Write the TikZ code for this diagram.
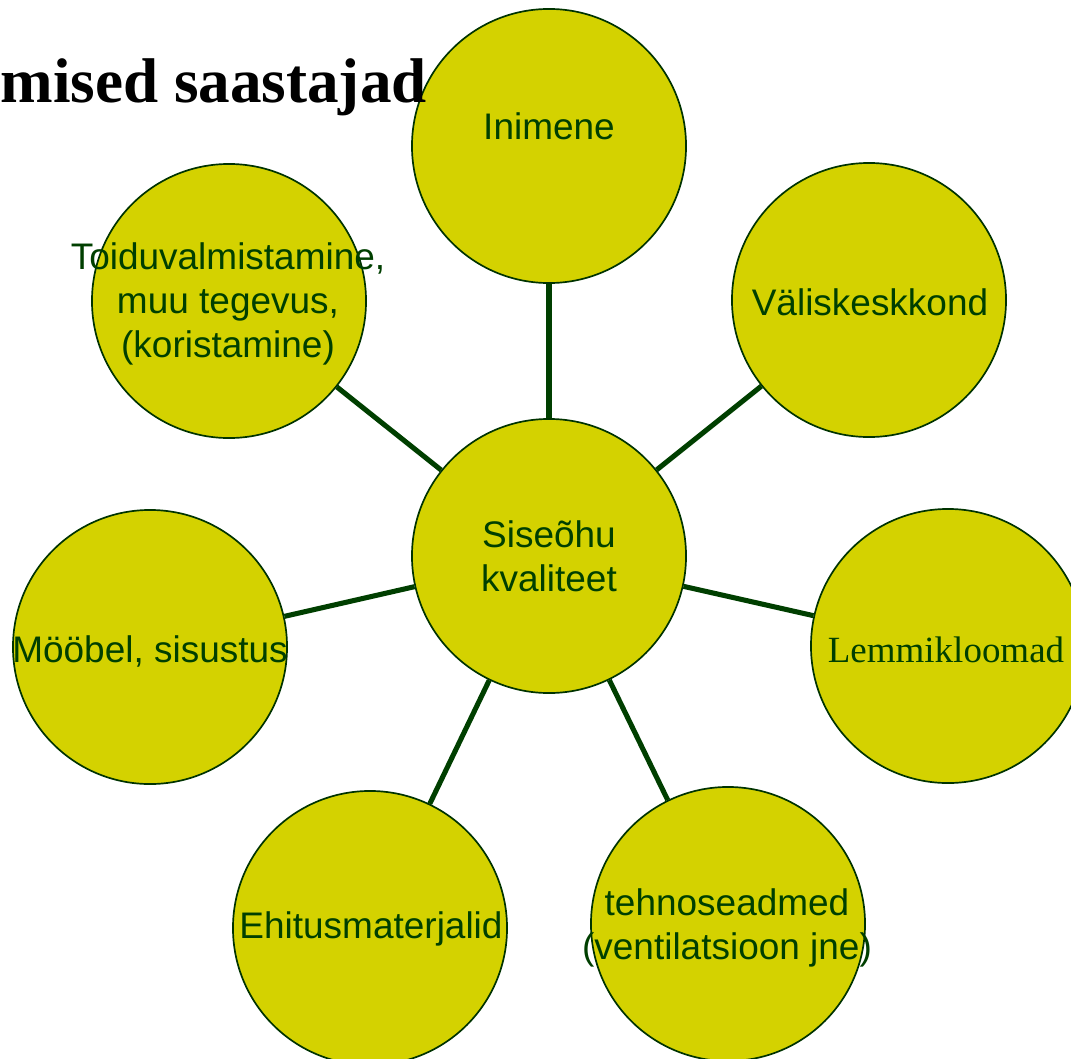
\documentclass[tikz,border=0pt]{standalone}
\usepackage{fontspec}
\setmainfont{Liberation Serif}
\setsansfont{Liberation Sans}
\usepackage{xcolor}
\usetikzlibrary{positioning}

\definecolor{blobfill}{HTML}{D4D200}
\definecolor{blobline}{HTML}{003300}
\definecolor{blobtext}{HTML}{003F00}

\begin{document}
\begin{tikzpicture}[
    x=0.025cm, y=-0.025cm,
    % --- Circle styles ---
    blob/.style={circle, draw=blobline, line width=1.2pt, fill=blobfill,
        minimum size=6.85cm, inner sep=0pt},
    blbl/.style={font=\sffamily\fontsize{26.3}{31}\selectfont, text=blobtext,
        align=center, inner sep=0pt},
    serlbl/.style={blbl, font=\rmfamily\fontsize{26.3}{31}\selectfont},
    % --- Connector style ---
    spoke/.style={draw=blobtext, line width=3.6pt},
]
\clip (0,0) rectangle (1071,1058);

% =============================================
%  Circles
% =============================================
\node[blob] (sis)   at (549,556) {};
\node[blob] (inim)  at (549,146) {};
\node[blob] (valis) at (869,300) {};
\node[blob] (lemmi) at (948,646) {};
\node[blob] (tehno) at (728,924) {};
\node[blob] (ehit)  at (370,928) {};
\node[blob] (moob)  at (150,647) {};
\node[blob] (toit)  at (229,301) {};

% =============================================
%  Connections
% =============================================
\foreach \outer in {inim, valis, lemmi, tehno, ehit, moob, toit}
    \draw[spoke] (sis) -- (\outer);

% =============================================
%  Labels
% =============================================
\node[blbl] (sisT) at (549,556) {Siseõhu\\kvaliteet};
\node[blbl, anchor=base] (inimT) at (549,139) {Inimene};
\node[blbl, anchor=base] (valisT) at (870,315) {Väliskeskkond};
\node[serlbl, anchor=base] (lemmiT) at (946,662) {Lemmikloomad};
\node[blbl] (tehnoT) at (727,928) {tehnoseadmed\\(ventilatsioon jne)};
\node[blbl, anchor=base] (ehitT) at (371,938) {Ehitusmaterjalid};
\node[blbl, anchor=base] (moobT) at (150,662) {Mööbel, sisustus};
\node[blbl] (toitT) at (228,304) {Toiduvalmistamine,\\muu tegevus,\\(koristamine)};

% title, cut at the left edge
\node[font=\rmfamily\bfseries\fontsize{44.9}{50}\selectfont, inner sep=0pt,
      anchor=base east] (title) at (427,102) {mised saastajad};

\end{tikzpicture}
\end{document}
